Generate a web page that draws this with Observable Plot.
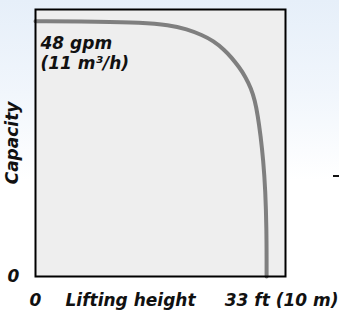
<!DOCTYPE html>
<html>
<head>
<meta charset="utf-8">
<script src="https://cdn.jsdelivr.net/npm/d3@7"></script>
<script src="https://cdn.jsdelivr.net/npm/@observablehq/plot@0.6"></script>
<style>
  html, body { margin: 0; padding: 0; }
  #wrap {
    position: relative; width: 339px; height: 311px; overflow: hidden;
    background: linear-gradient(180deg, #e6eff9 0%, #f1f6fc 30%, #ffffff 58%, #ffffff 100%);
  }
  #dash { position: absolute; left: 333px; top: 175px; width: 6px; height: 1.5px; background: #111; }
</style>
</head>
<body>
<div id="wrap"><div id="dash"></div></div>
<script>
// Pump curve: lifting height (ft) vs capacity (gpm)
const liftFt = [0, 9.28, 15.0, 19.1, 21.6, 23.8, 25.4, 26.99, 27.99, 29.07, 29.96, 30.79, 31.33, 31.74, 32.14, 32.53, 32.83, 32.99, 33.0, 33.0];
const capGpm = [48.0, 47.9, 47.75, 47.3, 46.5, 45.4, 44.3, 42.6, 41.17, 39.39, 37.6, 35.34, 33.09, 30.27, 26.51, 21.81, 16.17, 8.65, 3.0, 0];
const xTicks = [0, 33];
const xTickLabels = ["0", "33 ft (10 m)"];
const yTicks = [0];
const yTickLabels = ["0"];
const xLabel = "Lifting height";
const yLabel = "Capacity";
const peakLabel = "48 gpm\n(11 m\u00b3/h)";
const peakValue = 48;

const data = liftFt.map((x, i) => ({x, y: capGpm[i]}));
const font = "'DejaVu Sans', sans-serif";

const chart = Plot.plot({
  width: 339,
  height: 311,
  marginLeft: 35,
  marginTop: 9,
  marginRight: 54,
  marginBottom: 35,
  style: {background: "transparent", fontFamily: font, fontSize: "17px", fontWeight: "bold", fontStyle: "italic", overflow: "visible"},
  x: {domain: [0, 35.7], axis: null},
  y: {domain: [0, 50.2], axis: null},
  marks: [
    Plot.frame({fill: "#eeeeee", stroke: "none"}),
    Plot.line(data, {x: "x", y: "y", curve: "basis", stroke: "#7f7f7f", strokeWidth: 4}),
    Plot.frame({stroke: "#000", strokeWidth: 2}),
    Plot.text([peakLabel], {x: 0, y: peakValue, text: d => d, textAnchor: "start", lineAnchor: "top", dx: 5, dy: 14, lineHeight: 1.18, fill: "#111", fontSize: 17}),
    Plot.text(yTicks, {x: 0, y: d => d, text: (d, i) => yTickLabels[i], dx: -22, lineAnchor: "middle", fill: "#111", fontSize: 17}),
    Plot.text([xTicks[0]], {x: d => d, y: 0, text: () => xTickLabels[0], dy: 24, lineAnchor: "middle", fill: "#111", fontSize: 17}),
    Plot.text([xTicks[1]], {x: d => d, y: 0, text: () => xTickLabels[1], textAnchor: "end", dx: 72, dy: 24, lineAnchor: "middle", fill: "#111", fontSize: 17}),
    Plot.text([xLabel], {frameAnchor: "bottom-left", text: d => d, textAnchor: "start", dx: 30, dy: 24, lineAnchor: "middle", fill: "#111", fontSize: 17}),
    Plot.text([yLabel], {frameAnchor: "left", text: d => d, rotate: -90, textAnchor: "middle", dx: -23, lineAnchor: "middle", fill: "#111", fontSize: 17})
  ]
});
document.getElementById("wrap").appendChild(chart);
</script>
</body>
</html>
